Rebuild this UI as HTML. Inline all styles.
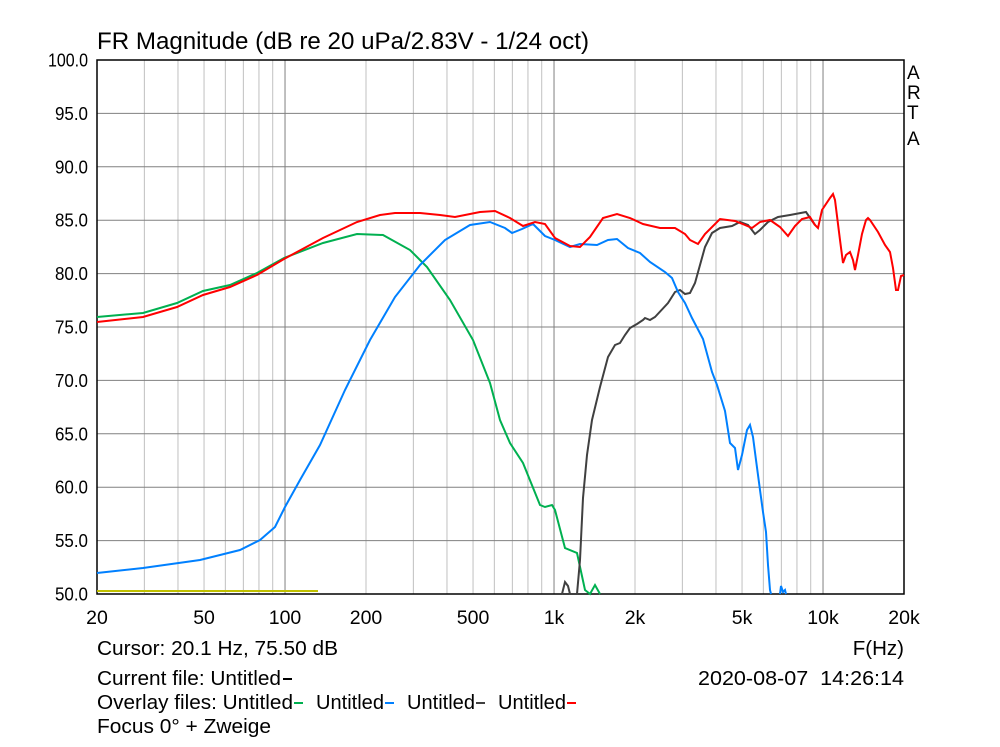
<!DOCTYPE html>
<html><head><meta charset="utf-8"><style>
body{margin:0;background:#fff;}
svg text{font-family:"Liberation Sans",Arial,sans-serif;fill:#000;}
</style></head><body>
<svg id="s" width="1000" height="742" xmlns="http://www.w3.org/2000/svg">
<rect width="1000" height="742" fill="#fff"/>
<g id="grid"></g>
<rect x="97" y="60" width="807" height="534" fill="none" stroke="#000" stroke-width="1.5"/>
<text x="97" y="49" font-size="24" textLength="492" lengthAdjust="spacingAndGlyphs">FR Magnitude (dB re 20 uPa/2.83V - 1/24 oct)</text>
<g font-size="19">
<text x="907" y="79">A</text><text x="907" y="99">R</text><text x="907" y="119">T</text><text x="907" y="145">A</text>
</g>
<g id="yl" font-size="18" text-anchor="end"></g>
<g id="xl" font-size="19.5" text-anchor="middle"></g>
<g font-size="20.5">
<text x="97" y="655" textLength="241" lengthAdjust="spacingAndGlyphs">Cursor: 20.1 Hz, 75.50 dB</text>
<text x="904" y="655" text-anchor="end">F(Hz)</text>
<text x="97" y="685" textLength="184" lengthAdjust="spacingAndGlyphs">Current file: Untitled</text><line x1="283" y1="679" x2="292" y2="679" stroke="#000" stroke-width="2"/>
<text x="698" y="685" textLength="206" lengthAdjust="spacingAndGlyphs">2020-08-07&#160;&#160;14:26:14</text>
<text x="97" y="709" textLength="196" lengthAdjust="spacingAndGlyphs">Overlay files: Untitled</text><line x1="294" y1="703" x2="303" y2="703" stroke="#00b050" stroke-width="2"/>
<text x="316" y="709" textLength="68" lengthAdjust="spacingAndGlyphs">Untitled</text><line x1="385" y1="703" x2="394" y2="703" stroke="#0080ff" stroke-width="2"/>
<text x="407" y="709" textLength="68" lengthAdjust="spacingAndGlyphs">Untitled</text><line x1="476" y1="703" x2="485" y2="703" stroke="#404040" stroke-width="2"/>
<text x="498" y="709" textLength="68" lengthAdjust="spacingAndGlyphs">Untitled</text><line x1="567" y1="703" x2="576" y2="703" stroke="#ff0000" stroke-width="2"/>
<text x="97" y="733" textLength="174" lengthAdjust="spacingAndGlyphs">Focus 0° + Zweige</text>
</g>
<line x1="97" y1="591" x2="318" y2="591" stroke="#c0c000" stroke-width="2"/>
<polyline fill="none" stroke="#00b050" stroke-width="2" points="97,317 143,313 177,303 203,291 230,285 257,273 284,258 323,243 357,234 383,235 410,250 427,267 450,300 473,340 490,383 500,420 510,443 523,463 540,505 545,507 552,505 555,510 565,548 577,553 585,590 590,594 595,585 600,594"/>
<polyline fill="none" stroke="#404040" stroke-width="2" points="562,594 565,582 568,586 570,594"/>
<polyline fill="none" stroke="#404040" stroke-width="2" points="577,594 580,560 583,498 587,455 592,420 600,387 608,357 615,345 620,343 625,335 630,328 637,324 643,320 645,318 650,320 655,317 668,303 675,292 680,290 685,294 690,293 695,283 705,247 712,233 720,228 732,226 740,222 748,225 755,234 760,230 768,222 778,217 790,215 806,212 815,225"/>
<polyline fill="none" stroke="#0080ff" stroke-width="2" points="97,573 143,568 200,560 240,550 260,540 275,527 285,507 300,480 320,445 345,390 370,340 395,297 420,265 445,240 470,225 490,222 505,228 512,233 522,229 533,224 545,236 555,240 570,247 580,244 597,245 608,240 617,239 628,248 640,253 650,262 665,272 672,278 678,292 685,303 692,318 703,339 712,372 717,385 725,411 730,443 735,448 738,470 742,455 747,430 750,425 753,437 756,460 760,490 763,512 766,532 768,565 770,590 771,594"/>
<polyline fill="none" stroke="#0080ff" stroke-width="2" points="780,594 781,586 783,592 785,590 786,594"/>
<polyline fill="none" stroke="#ff0000" stroke-width="2" points="97,322 143,317 177,307 203,295 230,287 257,275 284,259 323,238 357,222 380,215 395,213 420,213 440,215 455,217 480,212 495,211 510,218 523,226 535,222 545,224 555,238 570,246 580,247 590,237 603,218 617,214 630,218 643,224 660,228 675,228 685,234 690,240 698,244 705,234 720,219 735,221 745,225 752,228 760,222 770,220 780,227 788,236 795,226 802,219 810,217 815,225 818,228 822,210 830,198 833,194 835,200 840,240 843,263 846,255 850,252 853,260 855,270 858,255 862,234 866,220 868,218 870,220 878,232 885,245 890,252 893,268 896,290 898,290 901,276 904,275"/>
</svg>
<script>
var NS="http://www.w3.org/2000/svg";
function el(t,a,p,txt){var e=document.createElementNS(NS,t);for(var k in a)e.setAttribute(k,a[k]);if(txt)e.textContent=txt;document.getElementById(p).appendChild(e);}
function X(f){return 97+269*Math.log10(f/20);}
var dec=[10,100,1000,10000];
dec.forEach(function(d){for(var m=1;m<10;m++){var f=d*m;if(f<20||f>20000)continue;var x=X(f);
 var major=(m==1);el('line',{x1:x,y1:60,x2:x,y2:594,stroke:major?'#808080':'#c0c0c0','stroke-width':1},'grid');}});
for(var v=50;v<=100;v+=5){var y=60+(100-v)*10.68;el('line',{x1:97,y1:y,x2:904,y2:y,stroke:'#808080','stroke-width':1},'grid');
 el('text',{x:88,y:y+6.5,textLength:(v==100?40:33),lengthAdjust:'spacingAndGlyphs'},'yl',v.toFixed(1));}
[[20,'20'],[50,'50'],[100,'100'],[200,'200'],[500,'500'],[1000,'1k'],[2000,'2k'],[5000,'5k'],[10000,'10k'],[20000,'20k']].forEach(function(p){
 el('text',{x:X(p[0]),y:624},'xl',p[1]);});
</script>
</body></html>
